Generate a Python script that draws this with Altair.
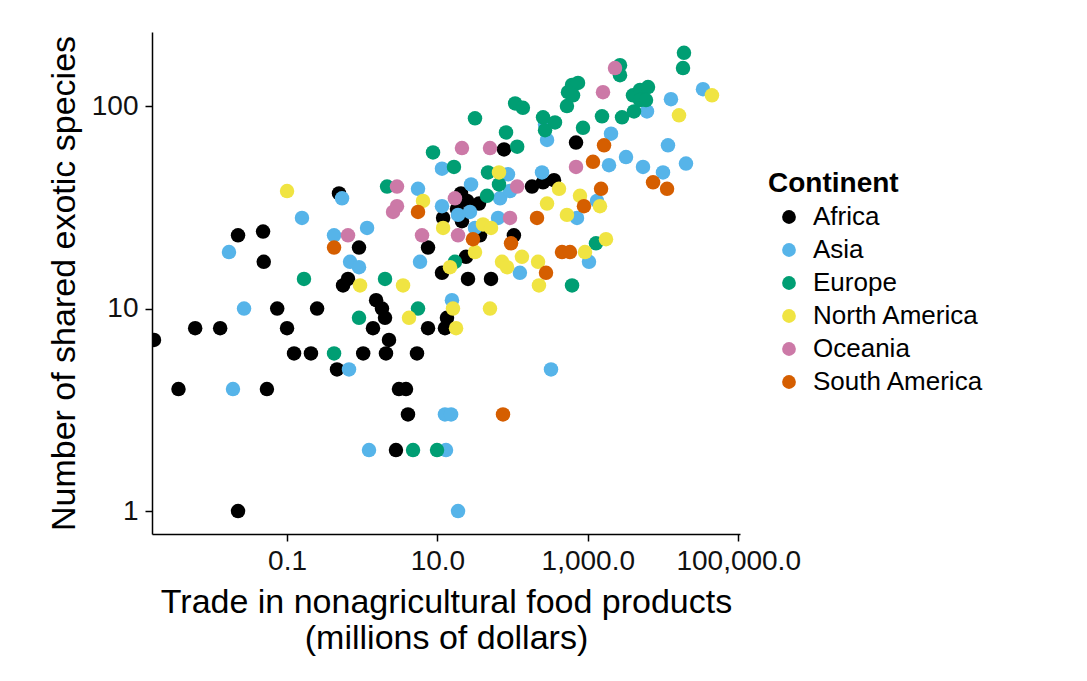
import altair as alt
import pandas as pd

continents = ["Africa", "Asia", "Europe", "North America", "Oceania", "South America"]
colors = ["#000000", "#56B4E9", "#009E73", "#F0E442", "#CC79A7", "#D55E00"]

africa_trade = [0.0017, 0.0036, 0.0060, 0.0129, 0.0223, 0.048, 0.049, 0.0223, 0.054, 0.074,
                0.1, 0.124, 0.208, 0.251, 0.462, 0.491, 0.647, 0.556, 0.906, 1.03,
                1.39, 1.53, 1.83, 2.01, 2.07, 2.27, 2.81, 3.08, 3.82, 4.06,
                5.35, 7.5, 7.5, 12.6, 11.5, 13.4, 11.9, 21.2, 18.2, 20.6,
                24.8, 35.7, 36.8, 24.0, 25.5, 51.6, 76.9, 104, 181, 254, 355, 697]
africa_species = [7, 4, 8, 8, 23, 24, 17, 1, 4, 10,
                  8, 6, 6, 10, 5, 37, 14, 13, 20, 6,
                  8, 11, 10, 9, 6, 7, 2, 4, 4, 3,
                  6, 20, 8, 8, 15, 9, 28, 27, 31, 37,
                  34, 33, 23, 18, 14, 14, 61, 23, 40, 42, 43, 66]

asia_trade = [0.0169, 0.0191, 0.0268, 0.158, 0.539, 0.422, 1.16, 0.689, 0.906, 0.667,
              1.23, 5.52, 5.87, 11.5, 11.5, 13.0, 12.6, 15.2, 15.6, 18.8,
              18.8, 27.1, 28.0, 31.6, 64.0, 68.0, 92.3, 86.8, 125, 246,
              270, 287, 324, 718, 1037, 1325, 1914, 2035, 3222, 5420,
              6124, 10000, 11650, 12760, 20220, 34040]
asia_species = [19, 4, 10, 28, 35, 23, 25, 17, 16, 5,
                2, 39, 17, 49, 32, 2, 3, 3, 11, 1,
                29, 30, 41, 25, 28, 35, 38, 46, 15, 47,
                81, 68, 5, 28, 17, 34, 51, 73, 56, 50,
                94, 47, 64, 108, 52, 121]

europe_trade = [0.168, 0.422, 0.906, 2.01, 2.14, 4.74, 5.52, 8.74, 9.88, 16.6,
                17.1, 31.6, 45.7, 47.1, 65.9, 81.7, 108, 137, 115, 254,
                366, 270, 528, 545, 617, 741, 636, 617, 863, 1285,
                1545, 2680, 2680, 2851, 4113, 3990, 4943, 6320, 4943, 5940,
                19010, 18450]
europe_species = [14, 6, 9, 14, 40, 2, 10, 59, 2, 50,
                  17, 87, 36, 47, 41, 74, 103, 98, 63, 88,
                  83, 76, 100, 117, 127, 130, 113, 13, 78, 21,
                  89, 159, 142, 88, 94, 113, 120, 124, 107, 107,
                  183, 154]

namerica_trade = [0.1, 0.935, 3.49, 4.19, 6.43, 11.9, 16.1, 17.7, 14.7, 31.6,
                  40.4, 51.6, 50.0, 65.9, 72.3, 84.3, 133, 218, 224, 287,
                  414, 528, 787, 918, 1452, 1745, 16330, 44770]
namerica_species = [38, 13, 13, 9, 34, 25, 10, 8, 16, 19,
                    26, 25, 10, 47, 17, 16, 18, 17, 13, 33,
                    39, 29, 36, 19, 32, 22, 90, 113]

oceania_trade = [0.647, 2.90, 2.90, 2.57, 6.24, 17.1, 18.8, 21.2, 50.0, 92.3,
                 115, 697, 1592, 2301]
oceania_species = [23, 40, 32, 30, 23, 35, 23, 62, 62, 28,
                   40, 50, 117, 154]

samerica_trade = [0.422, 5.52, 29.7, 74.5, 95.3, 211, 278, 454, 579, 889,
                  1172, 1500, 1644, 7380, 11320]
samerica_species = [20, 30, 22, 3, 21, 28, 15, 19, 19, 32,
                    53, 39, 64, 42, 39]

x_ticks = [0.1, 10, 1000, 100000]
y_ticks = [1, 10, 100]

groups = [
    ("Africa", africa_trade, africa_species),
    ("Asia", asia_trade, asia_species),
    ("Europe", europe_trade, europe_species),
    ("North America", namerica_trade, namerica_species),
    ("Oceania", oceania_trade, oceania_species),
    ("South America", samerica_trade, samerica_species),
]
rows = []
for name, tr, sp in groups:
    for t, s in zip(tr, sp):
        rows.append({"Continent": name, "trade": t, "species": s})
df = pd.DataFrame(rows)

FONT = "Liberation Sans"

chart = alt.Chart(df).mark_circle(size=210, opacity=1, clip=True).encode(
    x=alt.X("trade:Q",
            scale=alt.Scale(type="log", domain=[0.0016, 105700], nice=False),
            axis=alt.Axis(values=x_ticks, format=",.1f",
                          title=["Trade in nonagricultural food products", "(millions of dollars)"],
                          titleLineHeight=36, titlePadding=10, labelPadding=6,
                          labelFlush=False)),
    y=alt.Y("species:Q",
            scale=alt.Scale(type="log", domain=[0.77, 232], nice=False),
            axis=alt.Axis(values=y_ticks, format="d",
                          title="Number of shared exotic species",
                          titlePadding=10, labelPadding=7)),
    color=alt.Color("Continent:N",
                    scale=alt.Scale(domain=continents, range=colors),
                    legend=alt.Legend(title="Continent", orient="none",
                                      legendX=616, legendY=138,
                                      symbolType="circle", symbolSize=190,
                                      symbolStrokeWidth=0, symbolOpacity=1,
                                      symbolOffset=8, labelLimit=0,
                                      labelOffset=11, rowPadding=7,
                                      titlePadding=6, padding=0)),
).properties(
    width=588, height=502,
    padding={"left": 144, "top": 24, "right": 339, "bottom": 139},
    autosize=alt.AutoSizeParams(type="none"),
).configure(
    background="white", font=FONT
).configure_view(
    strokeWidth=0, stroke="transparent"
).configure_axis(
    grid=False, domainColor="black", domainWidth=1.5, tickColor="black",
    tickWidth=1.5, tickSize=7, labelFont=FONT, labelFontSize=28,
    labelColor="#111111", titleFont=FONT, titleFontSize=34,
    titleFontWeight="normal", titleColor="black", zindex=1
).configure_legend(
    titleFont=FONT, titleFontSize=28, titleFontWeight="bold", titleColor="black",
    labelFont=FONT, labelFontSize=26, labelColor="black"
)

chart.save("out.html", embed_options={"renderer": "svg", "actions": False})
